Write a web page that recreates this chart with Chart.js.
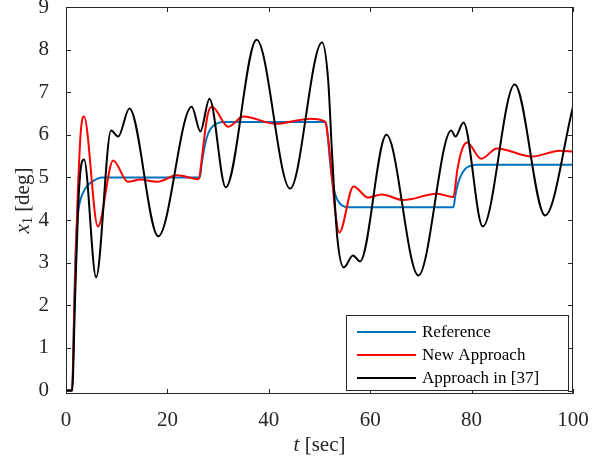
<!DOCTYPE html>
<html>
<head>
<meta charset="utf-8">
<script src="https://cdn.jsdelivr.net/npm/chart.js@4.4.0/dist/chart.umd.min.js"></script>
<style>
  html, body { margin: 0; padding: 0; background: #fff; }
</style>
</head>
<body>
<canvas id="c" width="613" height="465"></canvas>
<script>
// --- data (time in sec, x1 in deg) ---
const refT = [0, 1.2, 1.5, 1.8, 2.1, 2.6, 3.4, 4.3, 5.4, 7, 26.4, 26.8, 27.3, 27.8, 28.4, 29, 30, 31,
              51.2, 51.6, 52.1, 52.7, 53.5, 54.5, 56, 76.4, 76.8, 77.3, 77.8, 78.4, 79, 80, 81, 100];
const refY = [0, 0, 1.3, 2.9, 3.8, 4.35, 4.65, 4.82, 4.92, 5, 5, 5.35, 5.7, 5.95, 6.12, 6.21, 6.28, 6.3,
              6.3, 6.0, 5.35, 4.79, 4.48, 4.34, 4.3, 4.3, 4.58, 4.85, 5.02, 5.15, 5.23, 5.28, 5.3, 5.3];

const newT = [0, 1.2, 1.7, 2.2, 2.9, 3.55, 6.3, 9.3, 12.2, 14.6, 18, 21.9, 26.2, 26.7, 27.4, 28.0, 28.8,
              32, 35, 41.3, 48.2, 50.8, 51.3, 51.9, 52.5, 53.2, 53.9, 56.7, 59.6, 62.3, 66.5, 73.2, 76.4,
              77.2, 78.1, 79.1, 81.9, 85, 91.9, 97.4, 100];
const newY = [0, 0, 2.2, 4.2, 6.05, 6.43, 3.85, 5.40, 4.90, 4.95, 4.90, 5.05, 4.96, 5.35, 6.05, 6.5, 6.66,
              6.19, 6.43, 6.26, 6.38, 6.33, 6.25, 5.7, 4.95, 4.1, 3.71, 4.79, 4.53, 4.60, 4.47, 4.62, 4.54,
              5.19, 5.65, 5.82, 5.44, 5.68, 5.49, 5.63, 5.61];

const oldT = [0, 1.2, 1.8, 2.4, 2.9, 3.56, 5.94, 8.9, 10.3, 12.5, 18.2, 24.8, 26.5, 28.3, 31.5, 37.6,
              44.2, 50.5, 51.7, 52.5, 53.5, 54.8, 56.6, 58.0, 63.2, 69.5, 76.0, 76.8, 78.4, 82.2, 88.5,
              94.5, 100];
const oldY = [0, 0, 2.2, 4.3, 5.2, 5.42, 2.66, 6.10, 5.96, 6.62, 3.62, 6.66, 6.08, 6.85, 4.77, 8.23,
              4.74, 8.17, 7.3, 5.5, 3.6, 2.89, 3.17, 3.03, 6.0, 2.7, 6.1, 5.96, 6.29, 3.85, 7.18,
              4.11, 6.66];

const xTicks = [0, 20, 40, 60, 80, 100];
const yTicks = [0, 1, 2, 3, 4, 5, 6, 7, 8, 9];

const seriesNames = ['Reference', 'New Approach', 'Approach in [37]'];
const seriesColors = ['#0072BD', '#FF0000', '#000000'];

const axisColor = '#262626';
const serif = '"Liberation Serif", "DejaVu Serif", serif';

function pts(ts, ys) {
  return ts.map((t, i) => ({ x: t, y: ys[i] }));
}

// box, inward ticks on all four sides, axis titles (MATLAB look)
const frame = {
  id: 'frame',
  afterDatasetsDraw(chart) {
    const { ctx, chartArea: a, scales } = chart;
    const len = 5;
    ctx.save();
    ctx.strokeStyle = axisColor;
    ctx.lineWidth = 1;
    ctx.beginPath();
    ctx.rect(a.left + 0.5, a.top + 0.5, a.right - a.left - 1, a.bottom - a.top - 1);
    xTicks.forEach(v => {
      const px = Math.round(scales.x.getPixelForValue(v)) + 0.5;
      ctx.moveTo(px, a.bottom); ctx.lineTo(px, a.bottom - len);
      ctx.moveTo(px, a.top); ctx.lineTo(px, a.top + len);
    });
    yTicks.forEach(v => {
      const py = Math.round(scales.y.getPixelForValue(v)) + 0.5;
      ctx.moveTo(a.left, py); ctx.lineTo(a.left + len, py);
      ctx.moveTo(a.right, py); ctx.lineTo(a.right - len, py);
    });
    ctx.stroke();

    // x title: t [sec]
    ctx.fillStyle = axisColor;
    ctx.textBaseline = 'middle';
    ctx.font = 'italic 21px ' + serif;
    const wT = ctx.measureText('t').width;
    ctx.font = '21px ' + serif;
    const wRest = ctx.measureText(' [sec]').width;
    let x0 = (a.left + a.right) / 2 - (wT + wRest) / 2;
    ctx.font = 'italic 21px ' + serif;
    ctx.fillText('t', x0, 445);
    ctx.font = '21px ' + serif;
    ctx.fillText(' [sec]', x0 + wT, 445);

    // y title: x1 [deg]
    ctx.translate(23, (a.top + a.bottom) / 2);
    ctx.rotate(-Math.PI / 2);
    ctx.font = 'italic 21px ' + serif;
    const wX = ctx.measureText('x').width;
    ctx.font = '14px ' + serif;
    const w1 = ctx.measureText('1').width;
    ctx.font = '21px ' + serif;
    const wD = ctx.measureText(' [deg]').width;
    let s = -(wX + w1 + wD) / 2;
    ctx.font = 'italic 21px ' + serif;
    ctx.fillText('x', s, 0);
    ctx.font = '14px ' + serif;
    ctx.fillText('1', s + wX, 5);
    ctx.font = '21px ' + serif;
    ctx.fillText(' [deg]', s + wX + w1, 0);
    ctx.restore();
  },
  afterDraw(chart) {
    const { ctx, chartArea: a } = chart;
    const bx = a.right - 227, by = a.bottom - 79, bw = 222, bh = 75;
    ctx.save();
    ctx.fillStyle = '#fff';
    ctx.fillRect(bx, by, bw, bh);
    ctx.strokeStyle = axisColor;
    ctx.lineWidth = 1;
    ctx.strokeRect(bx + 0.5, by + 0.5, bw, bh);
    ctx.font = '17px ' + serif;
    ctx.textBaseline = 'middle';
    seriesNames.forEach((name, i) => {
      const y = by + 17 + i * 23;
      ctx.strokeStyle = seriesColors[i];
      ctx.lineWidth = 2;
      ctx.beginPath();
      ctx.moveTo(bx + 11, y); ctx.lineTo(bx + 70, y);
      ctx.stroke();
      ctx.fillStyle = '#000';
      ctx.fillText(name, bx + 76, y + 1);
    });
    ctx.restore();
  }
};

new Chart(document.getElementById('c'), {
  type: 'line',
  data: {
    datasets: [
      { label: seriesNames[0], data: pts(refT, refY), borderColor: seriesColors[0], order: 3 },
      { label: seriesNames[1], data: pts(newT, newY), borderColor: seriesColors[1], order: 2 },
      { label: seriesNames[2], data: pts(oldT, oldY), borderColor: seriesColors[2], order: 1 }
    ]
  },
  options: {
    responsive: false,
    animation: false,
    layout: { padding: { top: 7, right: 40, left: 0, bottom: 0 } },
    elements: {
      point: { radius: 0 },
      line: { borderWidth: 2, cubicInterpolationMode: 'monotone', fill: false }
    },
    plugins: {
      legend: { display: false },
      tooltip: { enabled: false }
    },
    scales: {
      x: {
        type: 'linear',
        min: 0, max: 100,
        afterBuildTicks: s => { s.ticks = xTicks.map(v => ({ value: v })); },
        afterFit: s => { s.height = 71; },
        grid: { display: false },
        border: { display: false },
        ticks: { color: axisColor, font: { family: serif, size: 21 }, padding: 6, maxRotation: 0 }
      },
      y: {
        type: 'linear',
        min: -0.08, max: 9,
        afterBuildTicks: s => { s.ticks = yTicks.map(v => ({ value: v })); },
        afterFit: s => { s.width = 66; s.paddingTop = 0; s.paddingBottom = 0; },
        grid: { display: false },
        border: { display: false },
        ticks: { color: axisColor, font: { family: serif, size: 21 }, padding: 9 }
      }
    }
  },
  plugins: [frame]
});
</script>
</body>
</html>
